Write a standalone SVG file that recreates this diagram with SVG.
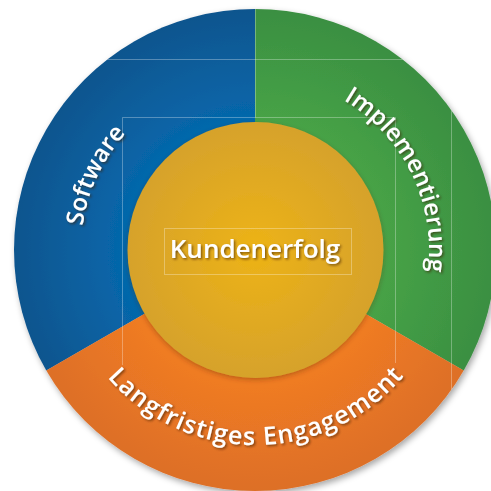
<svg xmlns="http://www.w3.org/2000/svg" width="491" height="491" viewBox="0 0 491 491">
<style>
.ring{font-family:"Open Sans","Noto Sans","Liberation Sans",sans-serif;font-weight:600;font-size:24px;fill:#ffffff;}
.bottom{font-size:25px;letter-spacing:1.1px;}
.center{font-family:"Open Sans","Noto Sans","Liberation Sans",sans-serif;font-weight:600;font-size:26px;fill:#ffffff;}
.guide{stroke:#ffffff;stroke-opacity:0.3;stroke-width:1;fill:none;}
</style>
<defs>
<radialGradient id="gBlue" gradientUnits="userSpaceOnUse" cx="255" cy="250" r="241">
<stop offset="0.5" stop-color="#0469ae"/>
<stop offset="1" stop-color="#11558e"/>
</radialGradient>
<radialGradient id="gGreen" gradientUnits="userSpaceOnUse" cx="255" cy="250" r="241">
<stop offset="0.5" stop-color="#48a446"/>
<stop offset="1" stop-color="#3a8f42"/>
</radialGradient>
<radialGradient id="gOrange" gradientUnits="userSpaceOnUse" cx="255" cy="250" r="241">
<stop offset="0.5" stop-color="#f27d22"/>
<stop offset="1" stop-color="#dd6f28"/>
</radialGradient>
<radialGradient id="gGold" gradientUnits="userSpaceOnUse" cx="255" cy="250" r="128">
<stop offset="0" stop-color="#edb316"/>
<stop offset="1" stop-color="#d6a22c"/>
</radialGradient>
<filter id="outerShadow" x="-10%" y="-10%" width="120%" height="120%">
<feDropShadow dx="2" dy="3" stdDeviation="3" flood-color="#000000" flood-opacity="0.35"/>
</filter>
<filter id="innerShadow" x="-15%" y="-15%" width="130%" height="130%">
<feDropShadow dx="0" dy="2" stdDeviation="2.5" flood-color="#5a2a00" flood-opacity="0.35"/>
</filter>
<filter id="textShadow" x="-10%" y="-20%" width="120%" height="140%">
<feDropShadow dx="1.5" dy="1.5" stdDeviation="1" flood-color="#3a2000" flood-opacity="0.6"/>
</filter>
<clipPath id="circClip"><circle cx="255" cy="250" r="241"/></clipPath>
<path id="pSoftware" d="M112.47,349.8 A174,174 0 0 1 239.83,76.66"/>
<path id="pImpl" d="M266.53,76.38 A174,174 0 0 1 399.53,346.88"/>
<path id="pLang" d="M86.81,348.68 A195,195 0 0 0 424.55,346.32"/>
</defs>

<g id="ring" filter="url(#outerShadow)">
<g id="software">
<path d="M255,250 L255,9 A241,241 0 0 0 46.29,370.5 Z" fill="url(#gBlue)"/>
</g>
<g id="implementierung">
<path d="M255,250 L255,9 A241,241 0 0 1 463.71,370.5 Z" fill="url(#gGreen)"/>
</g>
<g id="engagement">
<path d="M255,250 L463.71,370.5 A241,241 0 0 1 46.29,370.5 Z" fill="url(#gOrange)"/>
</g>
</g>

<g id="guides" clip-path="url(#circClip)">
<line class="guide" x1="0" y1="59.5" x2="491" y2="59.5"/>
<line class="guide" x1="255.5" y1="0" x2="255.5" y2="117.5"/>
<line class="guide" x1="122.5" y1="117.5" x2="395.5" y2="117.5"/>
<line class="guide" x1="122.5" y1="117.5" x2="122.5" y2="365"/>
<line class="guide" x1="395.5" y1="117.5" x2="395.5" y2="363"/>
<line class="guide" x1="451.5" y1="0" x2="451.5" y2="491"/>
</g>

<g id="kundenerfolg">
<circle cx="255.5" cy="250" r="128" fill="url(#gGold)" filter="url(#innerShadow)"/>
<rect class="guide" x="164.5" y="228.5" width="187" height="46"/>
<text class="center" x="255" y="258" text-anchor="middle" filter="url(#textShadow)">Kundenerfolg</text>
</g>

<g id="labels" filter="url(#textShadow)">
<text class="ring" text-anchor="middle"><textPath href="#pSoftware" startOffset="50%">Software</textPath></text>
<text class="ring" text-anchor="middle"><textPath href="#pImpl" startOffset="50%">Implementierung</textPath></text>
<text class="ring bottom" text-anchor="middle"><textPath href="#pLang" startOffset="50%">Langfristiges Engagement</textPath></text>
</g>
</svg>
